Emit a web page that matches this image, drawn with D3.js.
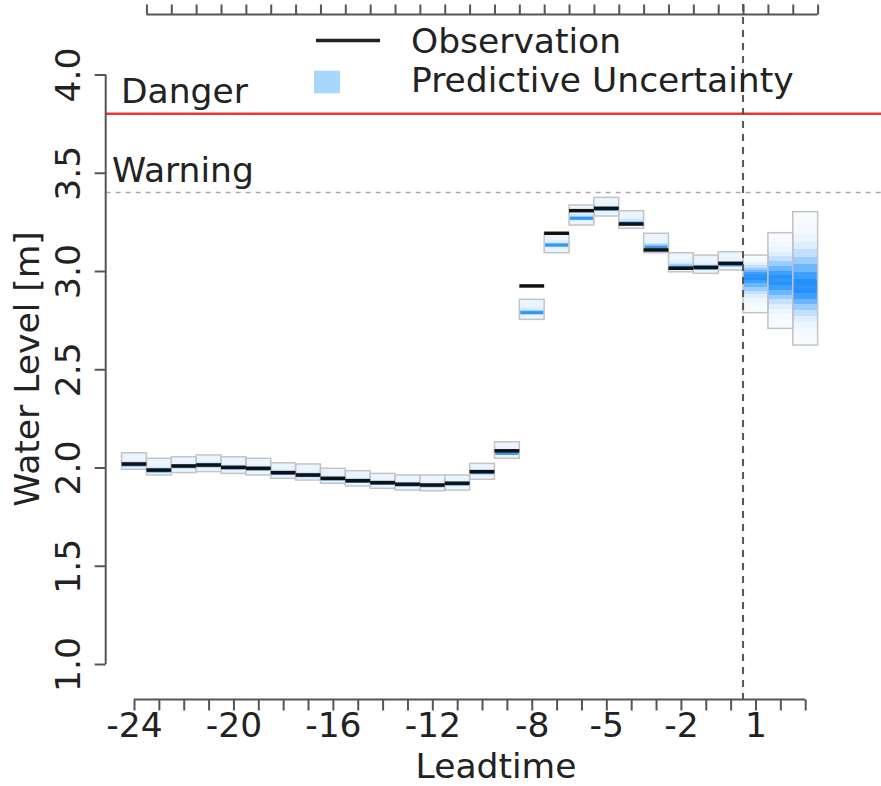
<!DOCTYPE html>
<html>
<head>
<meta charset="utf-8">
<script src="https://cdn.jsdelivr.net/npm/d3@7"></script>
<style>
  body { margin: 0; background: #fff; }
  svg text { font-family: "DejaVu Sans", sans-serif; fill: #222; }
</style>
</head>
<body>
<svg id="canvas" width="881" height="786"></svg>
<script>
'use strict';

// leadtime slots (hours), observed -24..0, forecast 1..3
const leadtimes = [-24, -23, -22, -21, -20, -19, -18, -17, -16, -15, -14, -13, -12, -11,
  -10, -9, -8, -7, -6, -5, -4, -3, -2, -1, 0, 1, 2, 3];
const tickLabels = [-24, -20, -16, -12, -8, -5, -2, 1];

const obsLevel = [2.018, 1.987, 2.008, 2.013, 2.001, 1.996, 1.974, 1.962, 1.945, 1.933,
  1.923, 1.915, 1.911, 1.920, 1.979, 2.085, 2.924, 3.192, 3.307, 3.319, 3.239, 3.107,
  3.014, 3.019, 3.039];
const medianLevel = [2.013, 1.982, 2.004, 2.009, 1.997, 1.992, 1.970, 1.958, 1.941, 1.929,
  1.919, 1.911, 1.907, 1.916, 1.974, 2.072, 2.788, 3.132, 3.268, 3.314, 3.243, 3.121,
  3.019, 3.013, 3.031, 2.975, 2.954, 2.919];
const upperLevel = [2.075, 2.047, 2.055, 2.064, 2.055, 2.047, 2.024, 2.018, 1.996, 1.984,
  1.970, 1.962, 1.962, 1.962, 2.021, 2.131, 2.856, 3.192, 3.336, 3.375, 3.307, 3.192,
  3.093, 3.081, 3.098, 3.081, 3.195, 3.302];
const lowerLevel = [1.991, 1.962, 1.974, 1.979, 1.970, 1.962, 1.945, 1.936, 1.920, 1.906,
  1.894, 1.885, 1.882, 1.885, 1.940, 2.047, 2.754, 3.093, 3.234, 3.280, 3.217, 3.093,
  2.996, 2.988, 3.005, 2.788, 2.708, 2.623];

const dangerLevel = 3.8;
const warningLevel = 3.4;
const yTicks = [1.0, 1.5, 2.0, 2.5, 3.0, 3.5, 4.0];

function Main() {
  const svg = d3.select('#canvas');
  const x = d3.scaleLinear().domain([-24, 3]).range([134, 805.2]);
  const y = d3.scaleLinear().domain([1, 4]).range([664, 74.5]);
  const slot = x(1) - x(0);
  const blue = '#1e90ff';
  const fontSize = 34.5;

  const boxes = leadtimes.map(function(lt, i) {
    return {lt: lt, i: i, hi: upperLevel[i], lo: lowerLevel[i], med: medianLevel[i],
      obs: i < obsLevel.length ? obsLevel[i] : null};
  });

  // shading of each uncertainty box, densest at the median
  const defs = svg.append('defs');
  const nBands = 10;
  function shade(u, past) {
    if (past) {
      return 0.09 + 0.5 * Math.exp(-Math.pow(u / 0.22, 2));
    }
    return 0.03 + 0.97 * Math.exp(-Math.pow(u / 0.38, 2));
  }
  boxes.forEach(function(d) {
    const m = (d.hi - d.med) / (d.hi - d.lo);
    const past = d.obs !== null;
    const g = defs.append('linearGradient')
        .attr('id', 'grad' + d.i)
        .attr('x1', 0).attr('y1', 0).attr('x2', 0).attr('y2', 1);
    const stops = [];
    for (let j = nBands - 1; j >= 0; j--) {
      const a = shade((j + 0.5) / nBands, past);
      stops.push([m * (1 - (j + 1) / nBands), a], [m * (1 - j / nBands), a]);
    }
    for (let j = 0; j < nBands; j++) {
      const a = shade((j + 0.5) / nBands, past);
      stops.push([m + (1 - m) * j / nBands, a], [m + (1 - m) * (j + 1) / nBands, a]);
    }
    stops.forEach(function(s) {
      g.append('stop').attr('offset', s[0]).attr('stop-color', blue).attr('stop-opacity', s[1]);
    });
  });

  // thresholds
  svg.append('line')
      .attr('x1', 105.7).attr('x2', 881).attr('y1', y(warningLevel)).attr('y2', y(warningLevel))
      .attr('stroke', '#aaa').attr('stroke-width', 1.5).attr('stroke-dasharray', '5,5');
  svg.append('line')
      .attr('x1', 105.7).attr('x2', 881).attr('y1', y(dangerLevel)).attr('y2', y(dangerLevel))
      .attr('stroke', '#f03232').attr('stroke-width', 2.5);
  svg.append('text').attr('x', 121).attr('y', 103).attr('font-size', fontSize).text('Danger');
  svg.append('text').attr('x', 112).attr('y', 182).attr('font-size', fontSize).text('Warning');

  // uncertainty boxes
  svg.append('g').selectAll('rect')
      .data(boxes)
    .enter().append('rect')
      .attr('x', function(d) { return x(d.lt) - slot / 2; })
      .attr('width', slot)
      .attr('y', function(d) { return y(d.hi); })
      .attr('height', function(d) { return y(d.lo) - y(d.hi); })
      .attr('fill', function(d) { return 'url(#grad' + d.i + ')'; })
      .attr('stroke', '#c4c4c4').attr('stroke-width', 1.5);

  svg.append('g').selectAll('line')
      .data(boxes)
    .enter().append('line')
      .attr('x1', function(d) { return x(d.lt) - slot / 2 + 1; })
      .attr('x2', function(d) { return x(d.lt) + slot / 2 - 1; })
      .attr('y1', function(d) { return y(d.med); })
      .attr('y2', function(d) { return y(d.med); })
      .attr('stroke', '#3596f2').attr('stroke-width', 3);

  svg.append('g').selectAll('line')
      .data(boxes.filter(function(d) { return d.obs !== null; }))
    .enter().append('line')
      .attr('x1', function(d) { return x(d.lt) - slot / 2; })
      .attr('x2', function(d) { return x(d.lt) + slot / 2; })
      .attr('y1', function(d) { return y(d.obs); })
      .attr('y2', function(d) { return y(d.obs); })
      .attr('stroke', '#111').attr('stroke-width', 3.5);

  // now line
  svg.append('line')
      .attr('x1', x(0.5)).attr('x2', x(0.5)).attr('y1', 4).attr('y2', 699.5)
      .attr('stroke', '#555').attr('stroke-width', 2).attr('stroke-dasharray', '7,6');

  // axes
  const axisColor = '#555';
  const bottom = svg.append('g').attr('transform', 'translate(0,699.5)')
      .call(d3.axisBottom(x).tickValues(leadtimes).tickSize(11).tickSizeOuter(0)
        .tickFormat(function(d) { return tickLabels.indexOf(d) >= 0 ? d : ''; }));
  bottom.select('.domain').remove();
  bottom.append('line').attr('x1', x(-24)).attr('x2', x(3)).attr('stroke', axisColor).attr('stroke-width', 2);
  bottom.selectAll('.tick line').attr('stroke', axisColor).attr('stroke-width', 2);
  bottom.selectAll('.tick text').attr('font-size', fontSize).attr('font-family', 'DejaVu Sans')
      .attr('fill', '#222').attr('dy', null).attr('y', 37).text(function(d) {
        return tickLabels.indexOf(d) >= 0 ? String(d) : '';
      });

  const topTicks = leadtimes.map(function(d) { return d + 0.5; });
  const top = svg.append('g').attr('transform', 'translate(0,14.5)')
      .call(d3.axisTop(x).tickValues(topTicks).tickSize(10).tickSizeOuter(0).tickFormat(''));
  top.select('.domain').remove();
  top.append('line').attr('x1', x(topTicks[0])).attr('x2', x(topTicks[topTicks.length - 1]))
      .attr('stroke', axisColor).attr('stroke-width', 2);
  top.selectAll('.tick line').attr('stroke', axisColor).attr('stroke-width', 2);

  const left = svg.append('g').attr('transform', 'translate(105.7,0)')
      .call(d3.axisLeft(y).tickValues(yTicks).tickSize(11).tickSizeOuter(0)
        .tickFormat(d3.format('.1f')));
  left.select('.domain').remove();
  left.append('line').attr('y1', y(1)).attr('y2', y(4)).attr('stroke', axisColor).attr('stroke-width', 2);
  left.selectAll('.tick line').attr('stroke', axisColor).attr('stroke-width', 2);
  left.selectAll('.tick text')
      .attr('font-size', fontSize).attr('font-family', 'DejaVu Sans').attr('fill', '#222')
      .attr('x', null).attr('dy', null)
      .attr('text-anchor', 'middle')
      .attr('transform', 'translate(-25.7,0) rotate(-90)');

  // axis titles
  svg.append('text').attr('text-anchor', 'middle').attr('font-size', fontSize)
      .attr('transform', 'translate(39,369) rotate(-90)').text('Water Level [m]');
  svg.append('text').attr('text-anchor', 'middle').attr('font-size', fontSize)
      .attr('x', 496).attr('y', 778).text('Leadtime');

  // legend
  svg.append('line').attr('x1', 316).attr('x2', 380).attr('y1', 40.5).attr('y2', 40.5)
      .attr('stroke', '#222').attr('stroke-width', 3.5);
  svg.append('rect').attr('x', 314).attr('y', 70.7).attr('width', 26).attr('height', 22.6)
      .attr('fill', '#a7d8fb');
  svg.append('text').attr('x', 411).attr('y', 53).attr('font-size', fontSize).text('Observation');
  svg.append('text').attr('x', 411).attr('y', 92).attr('font-size', fontSize).text('Predictive Uncertainty');
}

Main();
</script>
</body>
</html>
